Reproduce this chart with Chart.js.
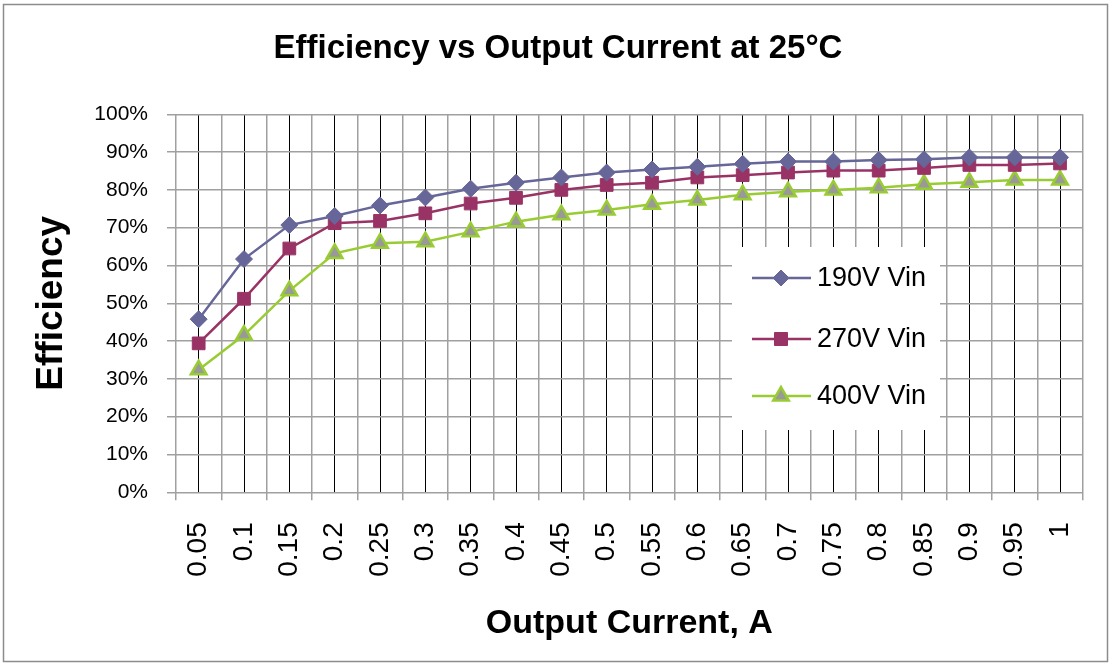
<!DOCTYPE html>
<html lang="en">
<head>
    <meta charset="UTF-8">
    <title>Efficiency vs Output Current at 25°C</title>
    <script src="https://cdn.jsdelivr.net/npm/chart.js"></script>
    <style>
        body { margin: 0; background: #fff; }
        #wrap { width: 1116px; height: 665px; }
    </style>
</head>
<body>
    <div id="wrap">
        <canvas id="effChart" width="1116" height="665"></canvas>
    </div>
    <script>
    // values (efficiency in %)
    const currents = ['0.05', '0.1', '0.15', '0.2', '0.25', '0.3', '0.35', '0.4', '0.45', '0.5',
                      '0.55', '0.6', '0.65', '0.7', '0.75', '0.8', '0.85', '0.9', '0.95', '1'];
    const eff190 = [45.8, 61.7, 70.7, 73.1, 75.9, 78.0, 80.3, 81.9, 83.3, 84.6,
                    85.4, 86.1, 86.9, 87.5, 87.5, 87.9, 88.1, 88.6, 88.6, 88.6];
    const eff270 = [39.4, 51.2, 64.5, 71.2, 71.8, 73.8, 76.4, 77.9, 80.0, 81.3,
                    81.9, 83.3, 83.9, 84.6, 85.1, 85.1, 85.8, 86.6, 86.6, 87.0];
    const eff400 = [32.4, 41.6, 53.3, 63.2, 65.9, 66.3, 68.9, 71.6, 73.4, 74.7,
                    76.2, 77.3, 78.7, 79.5, 80.0, 80.6, 81.5, 82.0, 82.6, 82.6];
    const seriesNames = ['190V Vin', '270V Vin', '400V Vin'];

    const SANS = "'Liberation Sans', Arial, sans-serif";

    function drawMarker(ctx, style, x, y, fill, stroke) {
        ctx.save();
        ctx.beginPath();
        if (style === 'diamond') {
            const r = 8;
            ctx.moveTo(x, y - r); ctx.lineTo(x + r, y); ctx.lineTo(x, y + r); ctx.lineTo(x - r, y);
        } else if (style === 'square') {
            ctx.rect(x - 6.5, y - 6.5, 13, 13);
        } else {
            const r = 9;
            ctx.moveTo(x, y - r); ctx.lineTo(x + r * 0.866, y + r * 0.5); ctx.lineTo(x - r * 0.866, y + r * 0.5);
        }
        ctx.closePath();
        ctx.fillStyle = fill;
        ctx.fill();
        ctx.lineWidth = style === 'triangle' ? 2.5 : 1;
        ctx.strokeStyle = stroke;
        ctx.stroke();
        ctx.restore();
    }

    // white background and grey frame round the whole chart
    const framePlugin = {
        id: 'frame',
        beforeDraw(chart) {
            const ctx = chart.ctx;
            ctx.save();
            ctx.fillStyle = '#fff';
            ctx.fillRect(0, 0, chart.width, chart.height);
            ctx.strokeStyle = '#8c8c8c';
            ctx.lineWidth = 1.5;
            ctx.strokeRect(3.5, 4.5, 1104, 657);
            ctx.restore();
        }
    };

    // legend box sitting inside the plot, like the Excel original
    const boxLegend = {
        id: 'boxLegend',
        afterDatasetsDraw(chart) {
            const ctx = chart.ctx;
            const markers = ['diamond', 'square', 'triangle'];
            const rows = [278, 339, 396];
            ctx.save();
            ctx.fillStyle = '#fff';
            ctx.fillRect(732, 247, 208, 183);
            chart.data.datasets.forEach((ds, i) => {
                const y = rows[i];
                ctx.strokeStyle = ds.borderColor;
                ctx.lineWidth = 2.5;
                ctx.beginPath();
                ctx.moveTo(752, y);
                ctx.lineTo(811, y);
                ctx.stroke();
                drawMarker(ctx, markers[i], 781, y, ds.pointBackgroundColor, ds.pointBorderColor);
                ctx.fillStyle = '#000';
                ctx.font = '27px ' + SANS;
                ctx.textBaseline = 'middle';
                ctx.textAlign = 'left';
                ctx.fillText(ds.label, 817, y + 1);
            });
            ctx.restore();
        }
    };

    const ctx = document.getElementById('effChart').getContext('2d');
    new Chart(ctx, {
        type: 'line',
        data: {
            labels: currents,
            datasets: [
                {
                    label: seriesNames[0],
                    data: eff190,
                    borderColor: '#666699',
                    borderWidth: 2.5,
                    pointStyle: 'rectRot',
                    pointRadius: 8.5,
                    pointBackgroundColor: '#666699',
                    pointBorderColor: '#666699',
                    pointBorderWidth: 1,
                    tension: 0
                },
                {
                    label: seriesNames[1],
                    data: eff270,
                    borderColor: '#993366',
                    borderWidth: 2.5,
                    pointStyle: 'rect',
                    pointRadius: 9,
                    pointBackgroundColor: '#993366',
                    pointBorderColor: '#993366',
                    pointBorderWidth: 1,
                    tension: 0
                },
                {
                    label: seriesNames[2],
                    data: eff400,
                    borderColor: '#99cc33',
                    borderWidth: 2.5,
                    pointStyle: 'triangle',
                    pointRadius: 9,
                    pointBackgroundColor: '#999999',
                    pointBorderColor: '#99cc33',
                    pointBorderWidth: 2.5,
                    tension: 0
                }
            ]
        },
        options: {
            responsive: false,
            animation: false,
            devicePixelRatio: 1,
            layout: { padding: 0 },
            plugins: {
                legend: { display: false },
                tooltip: { enabled: false },
                title: {
                    display: true,
                    text: 'Efficiency vs Output Current at 25°C',
                    color: '#000',
                    font: { family: SANS, size: 33, weight: 'bold' },
                    padding: { top: 29, bottom: 45.7 }
                }
            },
            scales: {
                x: {
                    type: 'category',
                    position: 'bottom',
                    offset: true,
                    border: { display: false },
                    grid: { offset: true, color: '#a0a0a0', lineWidth: 1.5, tickLength: 8, tickColor: '#a0a0a0' },
                    ticks: {
                        color: '#000',
                        font: { family: SANS, size: 28 },
                        autoSkip: false,
                        minRotation: 90,
                        maxRotation: 90,
                        padding: 22
                    },
                    title: {
                        display: true,
                        text: 'Output Current, A',
                        color: '#000',
                        font: { family: SANS, size: 34, weight: 'bold' },
                        padding: { top: 0, bottom: 20.6 }
                    },
                    afterFit(s) { s.height = 665 - 492.3; }
                },
                x2: {
                    type: 'category',
                    position: 'bottom',
                    labels: currents,
                    offset: true,
                    border: { display: false },
                    grid: { offset: false, color: '#000', lineWidth: 1, drawTicks: false },
                    ticks: { display: false },
                    afterFit(s) { s.height = 0; }
                },
                y: {
                    min: 0,
                    max: 100,
                    border: { display: false },
                    grid: { color: '#a0a0a0', lineWidth: 1.5, tickLength: 9, tickColor: '#a0a0a0' },
                    ticks: {
                        stepSize: 10,
                        color: '#000',
                        font: { family: SANS, size: 21 },
                        padding: 19,
                        callback: v => v + '%'
                    },
                    title: {
                        display: true,
                        text: 'Efficiency',
                        color: '#000',
                        font: { family: SANS, size: 37, weight: 'bold' },
                        padding: { top: 30, bottom: 0 }
                    },
                    afterFit(s) { s.width = 176; }
                },
                // empty right-hand strip so the plot stops at the same place as the original
                yRight: {
                    position: 'right',
                    min: 0,
                    max: 1,
                    border: { display: false },
                    grid: { display: false },
                    ticks: { display: false },
                    afterFit(s) { s.width = 15; }
                }
            }
        },
        plugins: [framePlugin, boxLegend]
    });
    </script>
</body>
</html>
